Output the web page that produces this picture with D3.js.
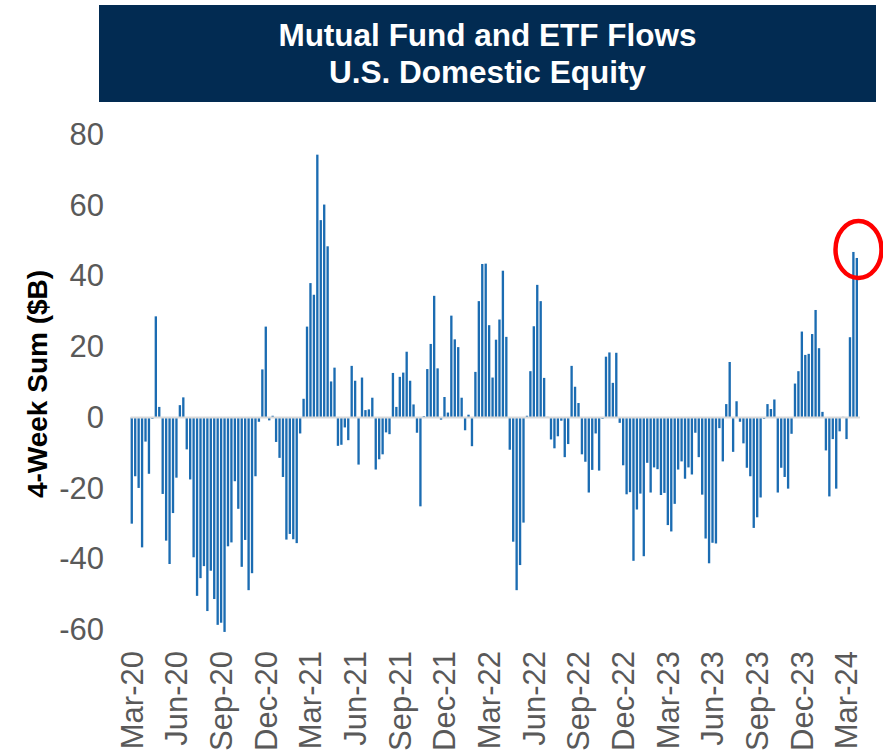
<!DOCTYPE html>
<html>
<head>
<meta charset="utf-8">
<script src="https://cdn.jsdelivr.net/npm/d3@7"></script>
<style>
  body { margin: 0; background: #fff; }
  text { font-family: "Liberation Sans", Arial, sans-serif; }
</style>
</head>
<body>
<script>
// weekly 4-week sums, $B (first week = early Mar 2020)
const firstWeek = "2020-03-06";
const flows = [
  -30, -16.6, -19.9, -36.7, -6.8, -15.9, -0.4, 28.6, 3.0, -21.6, -34.8, -41.4, -27, -17,
  3.5, 5.7, -9, -17.5, -39.5, -50.4, -45.4, -42, -54.7, -43.3, -51.3, -58.6, -58, -60.6,
  -36.4, -35.3, -18, -25.8, -42.2, -34.6, -48.8, -44, -16.6, -1.2, 13.6, 25.7, -0.8, 0.5,
  -6.9, -11.4, -16.8, -34.5, -32.9, -34.4, -35.5, -4.5, 5.3,
  25.7, 38.0, 34.7, 74.3, 55.8, 60.2, 48.4, 10.2, 14.1, -8.0, -7.7, -2.8, -6.4, 14.6,
  10.4, -13.3, 11.3, 2.1, 2.3, 5.6, -14.7, -11.8, -10.4, -4.2, -4.7, 12.6, 3.0, 11.5,
  12.7, 18.6, 10.4, 3.7, -4.3, -25.1, 0.4, 13.7, 20.8, 34.4, 13.9, -0.6, 5.8, 1.4,
  28.8, 22.1, 19.9, 5.6, -3.6, 0.8, -8.1, 12.9, 32.9, 43.4, 43.5, 26.1, 11.3,
  22.0, 27.7, 41.5, 22.8, -9.1, -35.1, -48.8, -41.7, -29.7, 0.5, 13.1, 25.8, 37.5, 32.9,
  11.2, 0.2, -6.2, -8.7, -5.3, -0.9, -11.2, -7.5, 14.6, 8.7, 4.1, -10.4, -12.5, -21.2,
  -14.8, -4.5, -15.0, -0.4, 17.2, 18.4, 9.8, 18.3, -1.5, -13.5, -21.7, -21.1, -40.5, -26.0,
  -21.5, -39.2, -12.8, -21.2, -14.1, -14.6, -21.9, -21.3, -30.4, -32.2, -24.4, -14.7, -12.4, -17.3,
  -14.1, -16.1, -4.3, -11.2, -21.8, -34.2, -41.2, -35.4, -35.6, -3.0, -12.4, 3.8, 15.7, -9.7,
  4.6, -1.2, -7.3, -14.2, -16.6, -31.2, -28.2, -22.6, -0.4, 3.8, 2.4, 5.1, -21.2,
  -14.2, -16.8, -20.1, -4.6, 9.6, 13.1, 24.3, 17.7, 18.0, 23.6, 30.4, 19.6, 1.6, -9.3,
  -22.3, -6.1, -20.1, -3.9, 0.2, -6.1, 22.7, 46.8, 45.1
];
const tickLabels = ["Mar-20","Jun-20","Sep-20","Dec-20","Mar-21","Jun-21","Sep-21","Dec-21",
  "Mar-22","Jun-22","Sep-22","Dec-22","Mar-23","Jun-23","Sep-23","Dec-23","Mar-24"];
const yTicks = [-60, -40, -20, 0, 20, 40, 60, 80];
const titleLines = ["Mutual Fund and ETF Flows", "U.S. Domestic Equity"];

var W = 883, H = 752;
var start = d3.timeParse("%Y-%m-%d")(firstWeek);
var weeks = flows.map(function (v, i) { return d3.timeDay.offset(start, 7 * i); });
var data = flows.map(function (v, i) { return {date: weeks[i], value: v}; });

var svg = d3.select("body").append("svg")
    .attr("width", W).attr("height", H);

// title box
svg.append("rect")
    .attr("x", 99).attr("y", 5).attr("width", 777).attr("height", 97)
    .attr("fill", "#022b52");
svg.selectAll("text.title")
    .data(titleLines)
    .enter().append("text")
    .attr("class", "title")
    .attr("x", 487.5)
    .attr("y", function (d, i) { return 45.5 + i * 37.6; })
    .attr("text-anchor", "middle")
    .attr("fill", "#fff")
    .attr("font-weight", "bold")
    .attr("font-size", "31.5px")
    .text(function (d) { return d; });

var x = d3.scaleBand()
    .domain(weeks)
    .range([130.6, 858])
    .paddingInner(0.32);
var y = d3.scaleLinear()
    .domain([-60, 80])
    .range([629.8, 134.5]);

// bars
svg.append("g").selectAll("rect")
    .data(data)
    .enter().append("rect")
    .attr("x", function (d) { return x(d.date); })
    .attr("width", x.bandwidth())
    .attr("y", function (d) { return y(Math.max(0, d.value)); })
    .attr("height", function (d) { return Math.abs(y(d.value) - y(0)); })
    .attr("fill", "#1b6cb2");

// zero line
svg.append("line")
    .attr("x1", 130.6).attr("x2", 860)
    .attr("y1", y(0)).attr("y2", y(0))
    .attr("stroke", "#d9d9d9").attr("stroke-width", 2);

// y axis labels (plain hyphen for negatives, as in the original)
var yAxis = d3.axisLeft(y).tickValues(yTicks).tickSize(0).tickPadding(0)
    .tickFormat(function (d) { return String(d); });
var yg = svg.append("g")
    .attr("transform", "translate(104,0)")
    .call(yAxis);
yg.select(".domain").remove();
yg.selectAll("text")
    .attr("font-family", "Liberation Sans, Arial, sans-serif")
    .attr("font-size", "31px")
    .attr("fill", "#595959");

// x axis labels, every 13th week
var tickWeeks = weeks.filter(function (d, i) { return i % 13 === 0; });
var xAxis = d3.axisBottom(x)
    .tickValues(tickWeeks)
    .tickSize(0)
    .tickFormat(function (d, i) { return tickLabels[i]; });
var xg = svg.append("g")
    .attr("transform", "translate(0,651)")
    .call(xAxis);
xg.select(".domain").remove();
xg.selectAll("text")
    .attr("font-family", "Liberation Sans, Arial, sans-serif")
    .attr("font-size", "31px")
    .attr("fill", "#595959")
    .attr("text-anchor", "end")
    .attr("transform", "rotate(-90)")
    .attr("x", 0)
    .attr("y", 0)
    .attr("dy", "0.35em");

// y title
svg.append("text")
    .attr("transform", "translate(37,384) rotate(-90)")
    .attr("text-anchor", "middle")
    .attr("dy", "0.35em")
    .attr("font-weight", "bold")
    .attr("font-size", "28px")
    .attr("fill", "#000")
    .text("4-Week Sum ($B)");

// red circle round the latest weeks
var last = weeks[weeks.length - 1];
svg.append("ellipse")
    .attr("cx", x(last) + x.bandwidth() + 0.5)
    .attr("cy", y(47.5))
    .attr("rx", 23)
    .attr("ry", 28.5)
    .attr("fill", "none")
    .attr("stroke", "#ff0000")
    .attr("stroke-width", 4.5);
</script>
</body>
</html>
